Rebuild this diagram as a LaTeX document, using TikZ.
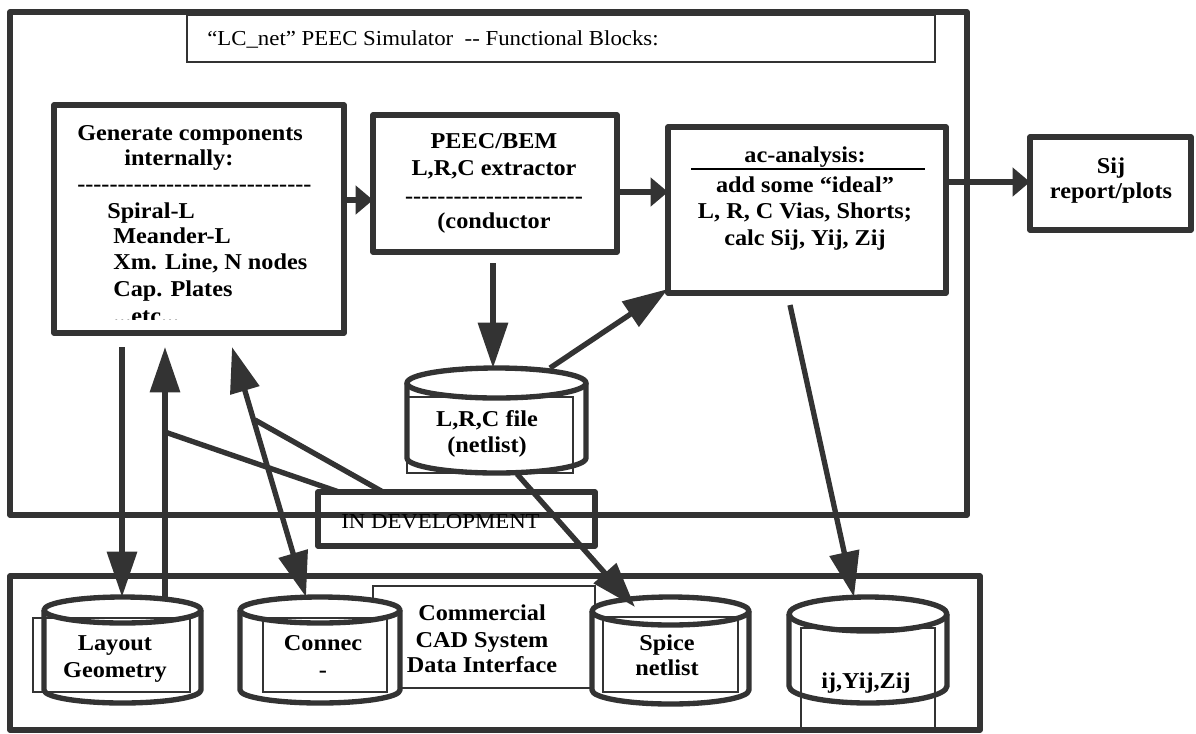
\documentclass[tikz,border=0pt]{standalone}
\usepackage{fontspec}
\setmainfont{Liberation Serif}[FakeStretch=1.07]
\usetikzlibrary{arrows.meta,fit}
\definecolor{ink}{HTML}{333333}
\tikzset{
  heavy/.style={draw=ink, line width=4pt, line join=round},
  thinbox/.style={draw=ink, line width=1.5pt},
  frame/.style={heavy, inner sep=0pt, fit=#1},
  thinframe/.style={thinbox, inner sep=0pt, fit=#1},
  arr/.style={draw=ink, line width=4pt, -{Triangle[length=34pt,width=22pt]}},
  harr/.style={draw=ink, line width=4pt, -{Triangle[length=13pt,width=21pt]}},
  darr/.style={draw=ink, line width=4pt, {Triangle[length=34pt,width=22pt]}-{Triangle[length=34pt,width=22pt]}},
  plainline/.style={draw=ink, line width=4pt},
  bt/.style={font=\bfseries\fontsize{17}{20}\selectfont, inner sep=0pt, text=black},
  rt/.style={font=\fontsize{16}{19}\selectfont, inner sep=0pt, text=black},
}
% cylinder: name, cx, rx, top-ellipse centre y, bottom centre y, ry
\newcommand\dbcyl[6]{%
  \path[fill=white] ({#2-#3},#4) -- ({#2-#3},#5)
    .. controls ({#2-#3},{#5+0.5523*#6}) and ({#2-0.5523*#3},{#5+#6}) .. ({#2},{#5+#6})
    .. controls ({#2+0.5523*#3},{#5+#6}) and ({#2+#3},{#5+0.5523*#6}) .. ({#2+#3},#5)
    -- ({#2+#3},#4) -- cycle;
  \draw[heavy] ({#2-#3},#4) -- ({#2-#3},#5)
    .. controls ({#2-#3},{#5+0.5523*#6}) and ({#2-0.5523*#3},{#5+#6}) .. ({#2},{#5+#6})
    .. controls ({#2+0.5523*#3},{#5+#6}) and ({#2+#3},{#5+0.5523*#6}) .. ({#2+#3},#5)
    -- ({#2+#3},#4);
  \draw[heavy, fill=white] (#2,#4) ellipse [x radius=#3, y radius=#6];
  \coordinate (#1-nw) at ({#2-#3},{#4-#6});
  \coordinate (#1-se) at ({#2+#3},{#5+#6});
  \node[inner sep=0pt, fit=(#1-nw)(#1-se)] (#1) {};
}
\begin{document}
\begin{tikzpicture}[x=0.75pt,y=-0.75pt]
\useasboundingbox (0,0) rectangle (1196,733);

% ---------- frames ----------
\coordinate (oNW) at (10,12);   \coordinate (oSE) at (967,515);
\node[frame={(oNW)(oSE)}] (outer) {};
\coordinate (tNW) at (187,15);  \coordinate (tSE) at (935,62);
\node[thinframe={(tNW)(tSE)}] (titlebox) {};
\coordinate (gNW) at (54,105);  \coordinate (gSE) at (344,333);
\node[frame={(gNW)(gSE)}] (gen) {};
\coordinate (pNW) at (373,115); \coordinate (pSE) at (617,252);
\node[frame={(pNW)(pSE)}] (peec) {};
\coordinate (aNW) at (668,127); \coordinate (aSE) at (946,293);
\node[frame={(aNW)(aSE)}] (ac) {};
\coordinate (sNW) at (1030,137); \coordinate (sSE) at (1191,230);
\node[frame={(sNW)(sSE)}] (sij) {};
\coordinate (dNW) at (318,492); \coordinate (dSE) at (595,546);
\node[frame={(dNW)(dSE)}] (indev) {};
\coordinate (bNW) at (10,576); \coordinate (bSE) at (980,730);
\node[frame={(bNW)(bSE)}] (cad) {};
\coordinate (cNW) at (373,586); \coordinate (cSE) at (595,688);
\node[thinframe={(cNW)(cSE)}] (cadbox) {};

% ---------- cylinders ----------
\dbcyl{lrc}{496.5}{89.5}{383}{458}{15}
\dbcyl{layout}{122.5}{78.5}{610}{690}{13}
\dbcyl{connec}{320}{80}{610}{690}{13}
\dbcyl{spice}{670.5}{78.5}{611}{690}{14}
\dbcyl{yij}{868}{79}{614}{686}{17}

% thin frames inside cylinders
\coordinate (r1a) at (407,397); \coordinate (r1b) at (573,473);
\node[thinframe={(r1a)(r1b)}] (lrcframe) {};
\coordinate (r2a) at (33,618);  \coordinate (r2b) at (190,692);
\node[thinframe={(r2a)(r2b)}] (layframe) {};
\coordinate (r3a) at (263,618); \coordinate (r3b) at (387,692);
\node[thinframe={(r3a)(r3b)}] (conframe) {};
\coordinate (r4a) at (603,617); \coordinate (r4b) at (738,692);
\node[thinframe={(r4a)(r4b)}] (spiframe) {};
\coordinate (r5a) at (801,628); \coordinate (r5b) at (935,728);
\node[thinframe={(r5a)(r5b)}] (yijframe) {};

% ---------- texts ----------
\node[rt, anchor=base west] (title) at (207,45) {“LC\_net” PEEC Simulator\ \ -{}- Functional Blocks:};

\node[bt, anchor=base west] (g1) at (77,140) {Generate components};
\node[bt, anchor=base west] (g2) at (124,165) {internally:};
\node[bt, anchor=base west] (g3) at (77,191) {-{}-{}-{}-{}-{}-{}-{}-{}-{}-{}-{}-{}-{}-{}-{}-{}-{}-{}-{}-{}-{}-{}-{}-{}-{}-{}-{}-{}-};
\node[bt, anchor=base west] (g4) at (107,218) {Spiral-L};
\node[bt, anchor=base west] (g5) at (113,243) {Meander-L};
\node[bt, anchor=base west] (g6) at (113,269) {Xm. Line, N nodes};
\node[bt, anchor=base west] (g7) at (113,296) {Cap. Plates};
\begin{scope}
  \clip (54,105) rectangle (344,319);
  \node[bt, anchor=base west] (g8) at (113,323) {...etc...};
\end{scope}

\node[bt, anchor=base] (p1) at (494,148) {PEEC/BEM};
\node[bt, anchor=base] (p2) at (494,175) {L,R,C extractor};
\node[bt, anchor=base] (p3) at (494,203) {-{}-{}-{}-{}-{}-{}-{}-{}-{}-{}-{}-{}-{}-{}-{}-{}-{}-{}-{}-{}-{}-};
\node[bt, anchor=base] (p4) at (494,228) {(conductor};

\node[bt, anchor=base] (a1) at (805,162) {ac-analysis:};
\coordinate (ruleL) at (691,169); \coordinate (ruleR) at (925,169);
\draw[draw=black, line width=1.6pt] (ruleL) -- (ruleR);
\node[bt, anchor=base] (a2) at (805,192) {add some “ideal”};
\node[bt, anchor=base] (a3) at (805,218) {L, R, C Vias, Shorts;};
\node[bt, anchor=base] (a4) at (805,245) {calc Sij, Yij, Zij};

\node[bt, anchor=base] (s1) at (1111,173) {Sij};
\node[bt, anchor=base] (s2) at (1111,198) {report/plots};

\node[bt, anchor=base] (l1) at (487,426) {L,R,C file};
\node[bt, anchor=base] (l2) at (487,452) {(netlist)};

\node[rt, anchor=base west] (dev) at (341,528) {IN DEVELOPMENT};

\node[bt, anchor=base] (y1) at (115,650) {Layout};
\node[bt, anchor=base] (y2) at (115,677) {Geometry};
\node[bt, anchor=base] (c1) at (323,650) {Connec};
\node[bt, anchor=base] (c2) at (323,677) {-};
\node[bt, anchor=base] (k1) at (482,620) {Commercial};
\node[bt, anchor=base] (k2) at (482,647) {CAD System};
\node[bt, anchor=base] (k3) at (482,672) {Data Interface};
\node[bt, anchor=base] (n1) at (667,650) {Spice};
\node[bt, anchor=base] (n2) at (667,675) {netlist};
\node[bt, anchor=base] (z1) at (866,688) {ij,Yij,Zij};

% ---------- connectors ----------
\coordinate (genR) at (344,200);   \coordinate (peecL) at (373,200);
\coordinate (peecR) at (617,192);  \coordinate (acL) at (668,192);
\coordinate (acR) at (946,182);    \coordinate (sijL) at (1030,182);
\coordinate (peecB) at (493,263);  \coordinate (lrcT) at (493,368);
\coordinate (lrcTR) at (550,368);  \coordinate (acBL) at (668,289);
\coordinate (acB) at (790,305);    \coordinate (yijT) at (854,597);
\coordinate (lrcB) at (517,474);   \coordinate (spiceT) at (635,607);
\coordinate (genB1) at (122,347);  \coordinate (layT1) at (122,597);
\coordinate (layT2) at (165,597);  \coordinate (genB2) at (165,347);
\coordinate (genB3) at (232,347);  \coordinate (conT) at (306,597);
\coordinate (upA) at (165,432);    \coordinate (devA) at (339,492);
\coordinate (dblA) at (255,420);   \coordinate (devB) at (383,492);

\draw[harr] (genR) -- (peecL);
\draw[harr] (peecR) -- (acL);
\draw[harr] (acR) -- (sijL);
\draw[arr] (peecB) -- (lrcT);
\draw[arr] (lrcTR) -- (acBL);
\draw[arr] (acB) -- (yijT);
\draw[arr] (lrcB) -- (spiceT);
\draw[arr] (genB1) -- (layT1);
\draw[arr] (layT2) -- (genB2);
\draw[darr] (genB3) -- (conT);
\draw[plainline] (upA) -- (devA);
\draw[plainline] (dblA) -- (devB);
\end{tikzpicture}
\end{document}
